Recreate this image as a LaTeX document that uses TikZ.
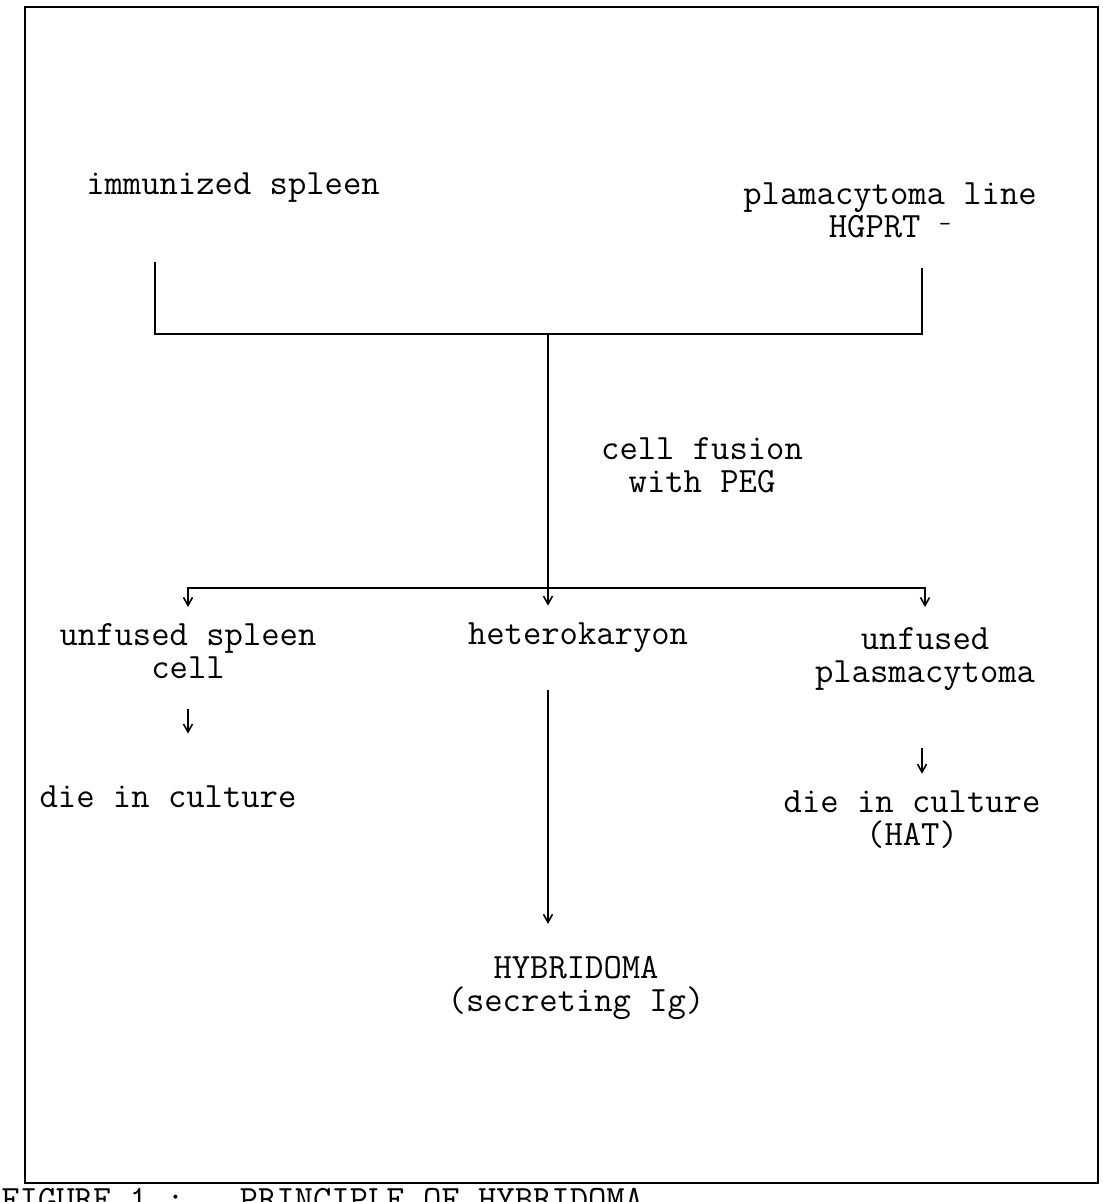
\documentclass[tikz,border=0pt]{standalone}
\usepackage{fontspec}
\usetikzlibrary{positioning,arrows.meta}

\begin{document}
\begin{tikzpicture}[x=0.5pt, y=0.5pt,
    txt/.style={font=\ttfamily\fontsize{17.8}{16.5}\selectfont, align=center, inner sep=2pt},
    arr/.style={-{Straight Barb[length=4pt,width=4.5pt]}, line width=0.8pt},
    ln/.style={line width=0.9pt},
    frame/.style={line width=1.4pt}]
    \useasboundingbox (0,0) rectangle (1102,1202);
    \draw[frame] (25,19) rectangle (1098,1195);
    \node[txt] (spleen) at (233,1014) {immunized spleen};
    \node[txt] (plasma) at (890,992) {plamacytoma line\\HGPRT \raisebox{3pt}{\fontsize{12}{12}\selectfont -}};
    \node[txt] (fusion) at (702,737) {cell fusion\\with PEG};
    \node[txt] (unspleen) at (188,551) {unfused spleen\\cell};
    \node[txt] (hetero) at (578,564) {heterokaryon};
    \node[txt] (unplasma) at (925,543) {unfused\\plasmacytoma};
    \node[txt] (diespleen) at (168,405) {die in culture};
    \node[txt] (dieplasma) at (912,382) {die in culture\\(HAT)};
    \node[txt] (hybrid) at (576,214) {HYBRIDOMA\\(secreting Ig)};
    \node[txt, anchor=base west, inner sep=0pt] (caption) at (1,-9) {FIGURE 1 :\ \ \ PRINCIPLE OF HYBRIDOMA};
    \coordinate (lstub) at (155,940);
    \coordinate (rstub) at (922,934);
    \coordinate (join) at (548,868);
    \coordinate (split) at (548,614);
    % fusion bracket
    \draw[ln] (lstub) |- (join) -| (rstub);
    \draw[ln] (join) -- (split);
    % three outcomes
    \draw[arr, shorten >=6pt] (split) -| (unspleen);
    \draw[arr, shorten >=6.5pt] (split) -- (split |- hetero.north);
    \draw[arr, shorten >=8pt] (split) -| (unplasma);
    \draw[arr, shorten <=13pt, shorten >=24pt] (unspleen.south) -- (unspleen.south |- diespleen.north);
    \draw[arr, shorten <=26.5pt, shorten >=6.5pt] (unplasma.south -| rstub) -- (rstub |- dieplasma.north);
    \draw[arr, shorten <=16.5pt, shorten >=14pt] (split |- hetero.south) -- (split |- hybrid.north);
\end{tikzpicture}
\end{document}
